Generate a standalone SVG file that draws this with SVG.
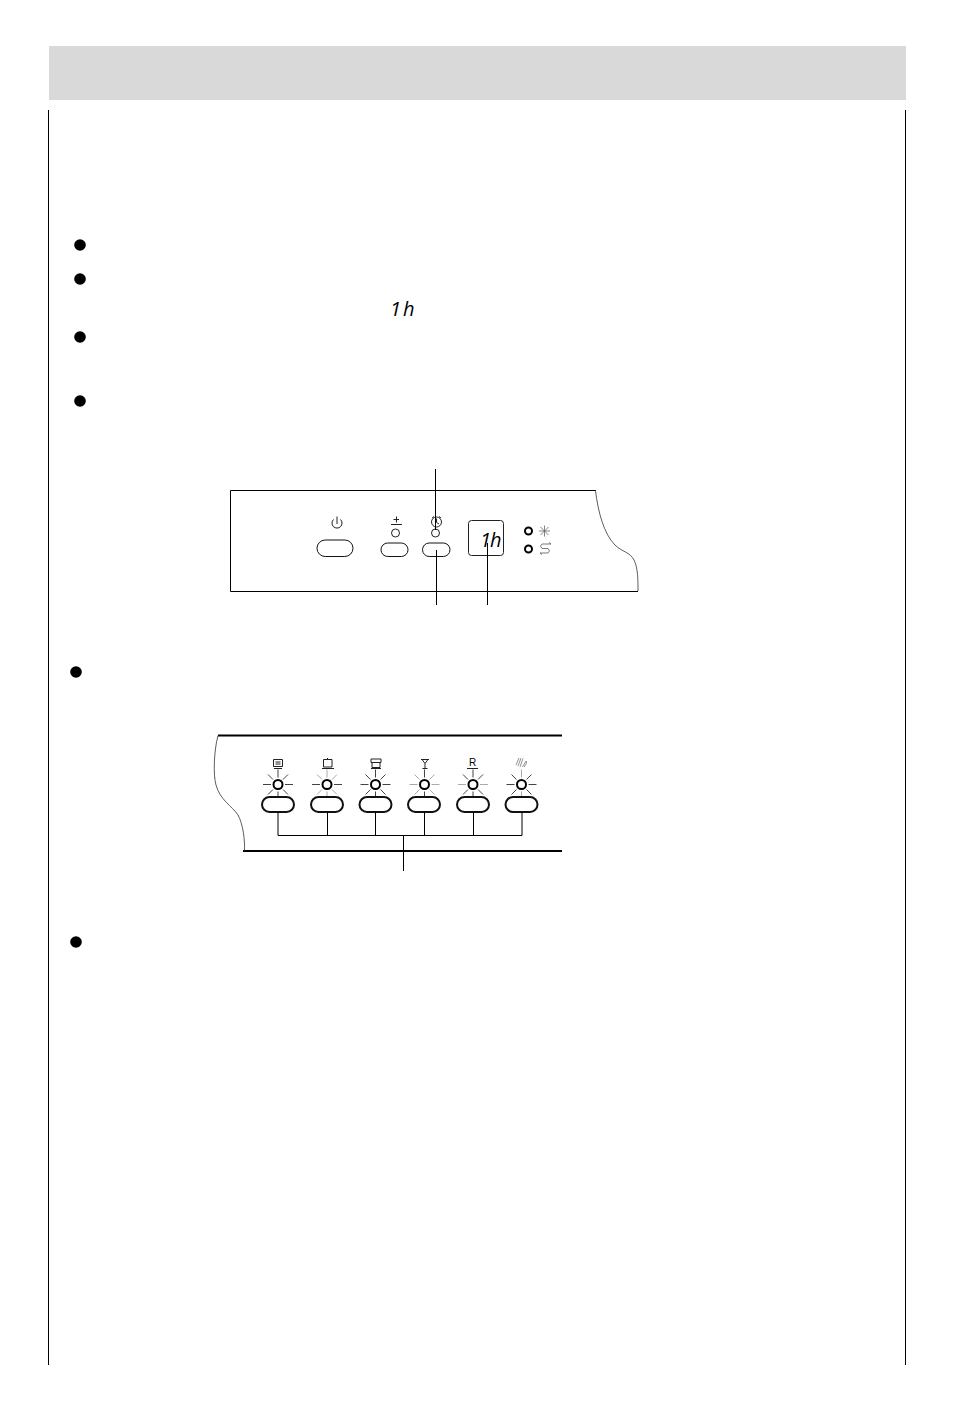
<svg xmlns="http://www.w3.org/2000/svg" width="954" height="1406" viewBox="0 0 954 1406">
<style>
.ln{fill:none;stroke:#000;stroke-width:1}
.ic{fill:none;stroke:#222;stroke-width:1}
.btn{fill:#fff;stroke:#111;stroke-width:1}
.btn2{fill:#fff;stroke:#111;stroke-width:2}
.led{fill:#fff;stroke:#222;stroke-width:1}
.led2{fill:#fff;stroke:#000;stroke-width:2}
.dark{stroke:#444;stroke-width:1;fill:none}
.light{stroke:#aaa;stroke-width:1;fill:none}
.seg{font-family:"Open Sans","Liberation Sans",Arial,sans-serif;font-style:italic;font-weight:400;font-size:20px;fill:#000}
</style>
<defs>
<path id="rh" d="M-15 0H-7M7 0H15"/>
<path id="rv" d="M0-15V-7M0 7V13"/>
<path id="rd" d="M-10-10L-5-5M5-5L10-10M-10 10L-5 5M5 5L10 10"/>
</defs>
<rect id="header" x="49" y="46" width="857" height="54" fill="#d9d9d9"/>
<g id="frame" class="ln">
<path d="M48.500 110V1365M905.500 110V1365"/>
</g>
<g id="bullets" fill="#000">
<circle cx="80" cy="245" r="5.800"/>
<circle cx="80" cy="279" r="5.800"/>
<circle cx="80" cy="337" r="5.800"/>
<circle cx="80" cy="401" r="5.800"/>
<circle cx="76" cy="672" r="5.800"/>
<circle cx="76" cy="942" r="5.800"/>
</g>
<text id="inline-1h" class="seg" x="390 403" y="315.500">1h</text>

<g id="panel-top">
<path class="ln" d="M596 490.500H230.500V591.500H638"/>
<path fill="none" stroke="#333" stroke-width=".8" d="M595.500 490.500C598 512 604 534 615 545C622 552 630 552 634 560C638 568 638 580 638 591"/>
</g>
<g id="power">
<path class="ic" d="M333.500 519.500A5 5 0 1 0 340.500 519.500M337 516.500V524"/>
<rect class="btn" x="317" y="540" width="36" height="16.500" rx="8.200"/>
</g>
<g id="salt">
<path class="ic" d="M391 524.500H402M396.500 516.500V522.500M393.500 519.500H399"/>
<circle class="led" cx="395.500" cy="533" r="4"/>
<rect class="btn" x="381" y="543" width="27" height="13.500" rx="6.700"/>
</g>
<g id="delay">
<path class="ic" d="M432 518L434 516.500M441 518L439 516.500M431.500 522A5 5 0 0 1 441.500 522A5 5 0 0 1 431.500 522M436.500 518.500V522.500L439 524"/>
<circle class="led" cx="435.500" cy="533" r="4"/>
<rect class="btn" x="422.500" y="543" width="27.500" height="13.500" rx="6.700"/>
</g>
<g id="display">
<rect fill="#fff" stroke="#222" stroke-width="1" x="468.500" y="520.500" width="35" height="35" rx="3"/>
<text class="seg" x="480 490" y="546.500">1h</text>
</g>
<g id="status-cold">
<circle class="led2" cx="528.500" cy="531" r="3.500"/>
<path fill="none" stroke="#666" stroke-width=".8" d="M539 531H550M544.500 525.500V536.500M540.500 527L548.500 535M548.500 527L540.500 535"/>
</g>
<g id="status-rinse">
<circle class="led2" cx="528.500" cy="549" r="3.500"/>
<path fill="none" stroke="#555" stroke-width=".8" d="M551 544H542Q539 546 542 548.500H548Q551 551 548 553H540M551 544L549 542.500M540 553L542 554.500"/>
</g>

<g id="panel-bottom">
<path fill="none" stroke="#000" stroke-width="2" d="M218 735.500H562M243 851H562"/>
<path fill="none" stroke="#333" stroke-width=".8" d="M218 735.500C214 750 213 775 216 785C220 800 232 806 238 815C243 824 245 840 244.500 851"/>
</g>
<g id="prog-1">
<path class="ic" d="M273.500 759.500H282.500V766.500H273.500ZM275.500 762H280.500M275.500 764H280.500M274 768.500H282"/>
<use href="#rh" x="278" y="784.500" class="dark"/><use href="#rv" x="278" y="784.500" class="dark"/><use href="#rd" x="278" y="784.500" class="dark"/>
<circle class="led2" cx="278" cy="784.500" r="4.500"/>
<rect class="btn2" x="262" y="797" width="32" height="15" rx="7.500"/>
</g>
<g id="prog-2">
<path class="ic" d="M323.500 759.500H332V767H323.500ZM322 768.500H334M327.500 758V759.500"/>
<use href="#rh" x="327" y="784.500" class="dark"/><use href="#rv" x="327" y="784.500" class="light"/><use href="#rd" x="327" y="784.500" class="light"/>
<circle class="led2" cx="327" cy="784.500" r="4.500"/>
<rect class="btn2" x="311" y="797" width="32" height="15" rx="7.500"/>
</g>
<g id="prog-3">
<path class="ic" d="M371 759H381V762.500H371ZM372 762.500V767.500H380V762.500M371 768.500H381"/>
<use href="#rh" x="375.500" y="784.500" class="dark"/><use href="#rv" x="375.500" y="784.500" class="dark"/><use href="#rd" x="375.500" y="784.500" class="dark"/>
<circle class="led2" cx="375.500" cy="784.500" r="4.500"/>
<rect class="btn2" x="359.500" y="797" width="32" height="15" rx="7.500"/>
</g>
<g id="prog-4">
<path class="ic" d="M421 759.500H429M422 759.500L425 763.500L428 759.500M425 763.500V768M422.500 768.500H427.500"/>
<use href="#rh" x="424.500" y="784.500" class="light"/><use href="#rv" x="424.500" y="784.500" class="dark"/><use href="#rd" x="424.500" y="784.500" class="light"/>
<circle class="led2" cx="424.500" cy="784.500" r="4.500"/>
<rect class="btn2" x="408" y="797" width="32" height="15" rx="7.500"/>
</g>
<g id="prog-5">
<text x="472.500" y="765.500" text-anchor="middle" font-family="'Liberation Sans',Arial,sans-serif" font-size="10" fill="#000">R</text>
<path class="ic" d="M467 768.500H478"/>
<use href="#rh" x="473" y="784.500" class="light"/><use href="#rv" x="473" y="784.500" class="dark"/><use href="#rd" x="473" y="784.500" class="dark"/>
<circle class="led2" cx="473" cy="784.500" r="4.500"/>
<rect class="btn2" x="457" y="797" width="32" height="15" rx="7.500"/>
</g>
<g id="prog-6">
<path fill="none" stroke="#777" stroke-width=".8" d="M516 765L519 758M518 766L521 758M520 767L523 758.500M522.500 767L526 761M524 767Q527 764 526.500 761"/>
<use href="#rh" x="521.500" y="784.500" class="dark"/><use href="#rv" x="521.500" y="784.500" class="light"/><use href="#rd" x="521.500" y="784.500" class="dark"/>
<circle class="led2" cx="521.500" cy="784.500" r="4.500"/>
<rect class="btn2" x="505.500" y="797" width="32" height="15" rx="7.500"/>
</g>

<g id="connectors" class="ln">
<path d="M435.500 469V530"/>
<path d="M436.500 550V605"/>
<path d="M487.500 543V605"/>
<path d="M278 812V835.500H522M327.500 812V835.500M375.500 812V835.500M424.500 812V835.500M473.500 812V835.500M522 812V835.500"/>
<path d="M403.500 835.500V871"/>
</g>
</svg>
